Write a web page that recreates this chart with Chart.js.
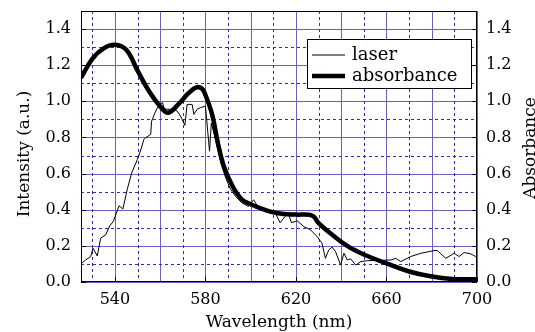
<!DOCTYPE html>
<html><head><meta charset="utf-8">
<script src="https://cdn.jsdelivr.net/npm/chart.js@4.4.1/dist/chart.umd.min.js"></script>
<style>html,body{margin:0;padding:0;background:#fff;overflow:hidden}#wrap{width:535px;height:332px;position:relative}</style>
</head><body>
<div id="wrap"><canvas id="c"></canvas></div>
<script>
// ---- data ----
const laserLabel = 'laser';
const absLabel = 'absorbance';
const laserX = [525,527,529.3,530.3,532.2,533.7,535.9,537.7,539.3,541.8,543.5,545.4,547.4,549.9,551,552.8,553.5,555.8,556.2,557.7,559.5,561,561.6,562.6,564.6,566,567.5,569,570.9,571.9,574.1,574.9,576.3,577.8,580,581.8,582.6,585,587,589,591,593.3,596.2,599,601.3,602.8,606,611,613,615,616.5,618,620.5,623.4,626.4,629.3,631.5,633,634.5,636,637.5,639.7,641.2,642.7,644.2,646.4,648.7,651.6,657.5,661.9,664.1,666.3,670.7,675.2,681,682.5,686.2,689.9,692,694.3,697.2,699.4,700];
const laserY = [0.10,0.122,0.141,0.187,0.144,0.243,0.261,0.311,0.335,0.422,0.404,0.511,0.604,0.678,0.715,0.789,0.798,0.817,0.89,0.937,0.983,0.993,0.965,0.956,0.956,0.956,0.946,0.918,0.867,0.983,0.983,0.928,0.956,0.965,0.974,0.724,0.88,0.76,0.65,0.575,0.515,0.474,0.437,0.418,0.455,0.425,0.405,0.378,0.328,0.36,0.385,0.328,0.339,0.307,0.289,0.252,0.215,0.131,0.178,0.193,0.168,0.094,0.159,0.122,0.128,0.094,0.113,0.118,0.12,0.122,0.131,0.113,0.141,0.159,0.174,0.174,0.131,0.159,0.141,0.163,0.156,0.141,0.14];
const absX = [525,530,535,540,545,550,555,560,563.5,568,572.5,576,578.5,580,583,585.5,588,592,596,600,606,612,620,626,628,630,636,643,650,660,670,680,689,700];
const absY = [1.13,1.235,1.293,1.313,1.285,1.17,1.057,0.972,0.937,0.983,1.045,1.077,1.07,1.035,0.925,0.77,0.645,0.53,0.458,0.43,0.40,0.38,0.373,0.372,0.36,0.326,0.262,0.197,0.152,0.103,0.058,0.03,0.017,0.015];

const xMajorTicks = [540,560,580,600,620,640,660,680,700];
const xMinorTicks = [530,550,570,590,610,630,650,670,690];
const xLabelTicks = [540,580,620,660,700];
const yMajorTicks = [0,0.2,0.4,0.6,0.8,1.0,1.2,1.4];
const yMinorTicks = [0.1,0.3,0.5,0.7,0.9,1.1,1.3];
const xTitle = 'Wavelength (nm)';
const yTitle = 'Intensity (a.u.)';
const y2Title = 'Absorbance';

const FONT = 'DejaVu Serif';
const solidGrid = '#6464c0';
const dashGrid = '#2c2cb0';

const laserData = laserX.map((x,i)=>({x, y: laserY[i]}));
const absData = absX.map((x,i)=>({x, y: absY[i]}));

const setTicks = arr => axis => { axis.ticks = arr.map(v=>({value:v})); };
const fitTo = (w, h) => s => {
  if (w !== null) s.width = w;
  if (h !== null) s.height = h;
  s.paddingTop = 0; s.paddingBottom = 0; s.paddingLeft = 0; s.paddingRight = 0;
};

const gridPlugin = {
  id: 'bluegrid',
  beforeDatasetsDraw(chart) {
    const {ctx, chartArea: a, scales} = chart;
    const line = (vals, horiz, color, dash) => {
      ctx.save();
      ctx.strokeStyle = color;
      ctx.lineWidth = 1;
      ctx.setLineDash(dash);
      ctx.beginPath();
      vals.forEach(v => {
        if (horiz) {
          const p = Math.round(scales.y.getPixelForValue(v)) + 0.5;
          ctx.moveTo(a.left, p); ctx.lineTo(a.right, p);
        } else {
          const p = Math.round(scales.x.getPixelForValue(v)) + 0.5;
          ctx.moveTo(p, a.top); ctx.lineTo(p, a.bottom);
        }
      });
      ctx.stroke();
      ctx.restore();
    };
    line(xMajorTicks, false, solidGrid, []);
    line(yMajorTicks, true, solidGrid, []);
    line(xMinorTicks, false, dashGrid, [3, 3]);
    line(yMinorTicks, true, dashGrid, [3, 3]);
  }
};

const framePlugin = {
  id: 'frame',
  afterDatasetsDraw(chart) {
    const {ctx, chartArea: a, scales} = chart;
    ctx.save();
    ctx.strokeStyle = '#000';
    ctx.lineWidth = 1;
    ctx.strokeRect(a.left + 0.5, a.top + 0.5, a.right - a.left - 1, a.bottom - a.top - 1);
    // inward tick marks
    const tl = 5;
    ctx.beginPath();
    xLabelTicks.forEach(v => {
      const px = Math.round(scales.x.getPixelForValue(v)) + 0.5;
      ctx.moveTo(px, a.bottom); ctx.lineTo(px, a.bottom - tl);
    });
    yMajorTicks.forEach(v => {
      const py = Math.round(scales.y.getPixelForValue(v)) + 0.5;
      ctx.moveTo(a.left, py); ctx.lineTo(a.left + tl, py);
      ctx.moveTo(a.right, py); ctx.lineTo(a.right - tl, py);
    });
    ctx.stroke();
    // legend box
    const lx = 307, ly = 39, lw = 164, lh = 49;
    ctx.fillStyle = '#fff';
    ctx.fillRect(lx, ly, lw, lh);
    ctx.strokeRect(lx + 0.5, ly + 0.5, lw, lh);
    const ds = chart.data.datasets;
    const rows = [55, 76];
    ctx.font = '18px "' + FONT + '"';
    ctx.textBaseline = 'middle';
    ctx.fillStyle = '#000';
    ds.forEach((d, i) => {
      ctx.beginPath();
      ctx.lineWidth = d.borderWidth;
      ctx.moveTo(312, rows[i]); ctx.lineTo(345, rows[i]);
      ctx.stroke();
      ctx.fillText(d.label, 352, rows[i]);
    });
    ctx.restore();
  },
  afterDraw(chart) {
    const {ctx} = chart;
    ctx.save();
    ctx.font = '17px "' + FONT + '"';
    ctx.fillStyle = '#000';
    ctx.textAlign = 'center';
    ctx.textBaseline = 'middle';
    ctx.save();
    ctx.translate(531, 148);
    ctx.rotate(-Math.PI / 2);
    ctx.fillText(y2Title, 0, 0);
    ctx.restore();
    ctx.translate(25, 154);
    ctx.rotate(-Math.PI / 2);
    ctx.fillText(yTitle, 0, 0);
    ctx.restore();
  }
};

new Chart(document.getElementById('c'), {
  type: 'line',
  data: {
    datasets: [
      { label: laserLabel, data: laserData, borderColor: '#000', borderWidth: 1, pointRadius: 0, tension: 0, xAxisID: 'x', yAxisID: 'y' },
      { label: absLabel, data: absData, borderColor: '#000', borderWidth: 4.5, pointRadius: 0, tension: 0.4, xAxisID: 'x', yAxisID: 'y' }
    ]
  },
  options: {
    responsive: true,
    maintainAspectRatio: false,
    animation: false,
    devicePixelRatio: 1,
    layout: { padding: { top: 11, left: 0, right: 0, bottom: 0 } },
    plugins: { legend: { display: false }, tooltip: { enabled: false } },
    scales: {
      x: {
        type: 'linear', position: 'bottom', min: 525, max: 700,
        afterBuildTicks: setTicks(xMajorTicks),
        afterFit: fitTo(null, 50),
        grid: { drawOnChartArea: false, drawTicks: false },
        border: { display: false },
        ticks: { padding: 8, color: '#000', font: { family: FONT, size: 16 },
          callback: v => xLabelTicks.includes(v) ? String(v) : '' , maxRotation: 0, autoSkip: false },
        title: { display: true, text: xTitle, color: '#000', font: { family: FONT, size: 17 }, padding: { top: 0, bottom: -1 } }
      },
      y: {
        type: 'linear', position: 'left', min: 0, max: 1.5,
        afterBuildTicks: setTicks(yMajorTicks),
        afterFit: fitTo(81, null),
        grid: { drawOnChartArea: false, drawTicks: false },
        border: { display: false },
        ticks: { padding: 10, color: '#000', font: { family: FONT, size: 16 }, callback: v => v.toFixed(1), autoSkip: false },
        title: { display: false }
      },
      y2: {
        type: 'linear', position: 'right', min: 0, max: 1.5,
        afterBuildTicks: setTicks(yMajorTicks),
        afterFit: fitTo(58, null),
        grid: { drawOnChartArea: false, drawTicks: false },
        border: { display: false },
        ticks: { padding: 9, color: '#000', font: { family: FONT, size: 16 }, callback: v => v.toFixed(1), autoSkip: false }
      }
    }
  },
  plugins: [gridPlugin, framePlugin]
});
</script>
</body></html>
